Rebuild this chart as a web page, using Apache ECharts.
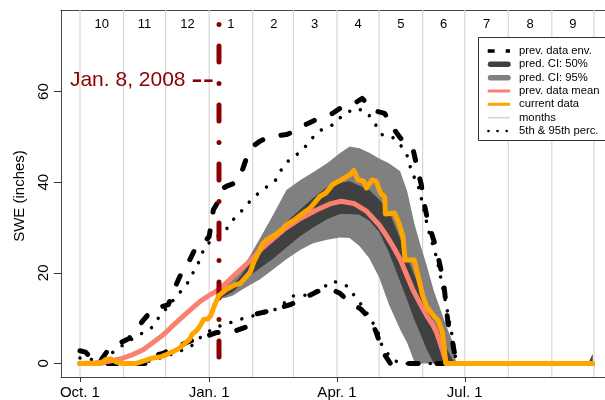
<!DOCTYPE html>
<html><head><meta charset="utf-8">
<script src="https://cdn.jsdelivr.net/npm/echarts@6/dist/echarts.min.js"></script>
<style>html,body{margin:0;padding:0;background:#fff}#c{width:605px;height:400px}</style>
</head><body><div id="c"></div>
<script>
const FONT = '"Liberation Sans", Arial, Helvetica, sans-serif';

// x = day of water year (0 = Oct. 1, 2007)
const monthStartDays = [0,31,61,92,123,152,183,213,244,274,305,336,366];
const monthLabelDays = [15.5,46,76.5,107.5,138,167,198,228.5,259,289.5,320.5,351];
const monthLabels = ['10','11','12','1','2','3','4','5','6','7','8','9'];
const xTickDays = [0,92,183,274];
const xTickLabels = ['Oct. 1','Jan. 1','Apr. 1','Jul. 1'];
const yTicks = [0,20,40,60];
const currentDay = 99;
const currentLabel = 'Jan. 8, 2008 ';
const currentMark = '--';

// prev. data envelope (max / min)
const envUpDays = [0,4,7,9,14,19,24,29,35,40,45,52,58,63,68,72,76,83,88,92,95,98,101,105,112,116,119,123,128,135,147,155,160,168,180,187,195,201,204,207,217,222,230,237,241,243,245,248,254,259,262,265,267,270,365];
const envUp = [2.8,2.5,1.5,0.3,0.3,2.5,4,4.6,5.5,7.5,9.5,12,12.5,13,17,19.8,21.5,25.9,26.6,28,33.9,35.5,38.5,39.2,40,43,45.7,47.9,49,50.1,50.5,51.5,52.6,53.8,55.2,56.7,57.3,58.5,57.5,56,55.2,52.3,49,47.5,42,39.5,35.4,31,25.1,17.8,9,5.3,1.7,0,0];
const envLoDays = [0,54,56,59,63,68,76,83,90,97,107,118,121,124,135,150,160,170,178,185,192,200,207,211,216,221,365];
const envLo = [0,0,2,2.2,2.8,3.5,4.6,5.5,6,6.8,6.8,8,9.5,10.8,11.6,13,14.5,16,16.5,15.5,13.5,12,9.7,6.8,2.4,0,0];

// 95th & 5th percentiles
const p95Days = [0,10,20,34,51,57,69,76,85,89,104,109,117,123,130,139,144,150,158,164,171,181,187,196,204,209,215,222,229,234,236,240,243,248,254,260,265,267,268,365];
const p95 = [1.2,0.8,1.7,4.8,7.9,10.5,14.9,17.4,22.6,25.9,29.5,31.7,34.3,36.5,38.3,40.3,43.1,45.3,46.8,49.3,51.4,52.8,54.8,56.3,55.6,53.4,50.5,50.1,47.9,45.3,42,40.2,36.5,29.5,23.3,14.1,6.1,2.4,0,0];
const p5Days = [0,40,50,60,70,80,88,97,107,118,130,140,152,162,172,180,190,202,212,215,222,228,365];
const p5 = [0,0,0.5,1.5,2.5,4,6.4,8,9,10.1,11,12,14.9,15.1,16.5,18.2,17.1,12.3,7.2,3.9,1,0,0];

// prev. data mean
const meanDays = [0,10,20,30,38,45,52,60,66,72,80,86,92,100,110,121,130,145,157,168,178,186,195,204,213,218,223,228,232,237,242,247,251,254,257,259,261,365];
const meanVals = [0,0.1,0.4,1.1,2,3,4.6,6.5,8.3,10,12.2,13.8,15,16.5,19.5,22.6,25.5,29.5,32,33.8,35.2,35.8,35.3,33.6,30.6,28.3,25.8,23,20,16.3,13.3,10.5,8.6,6.8,4,2,0,0];

// current data
const curDays = [0,15,18,22,26,30,40,45,52,58,62,66,70,74,78,80,83,86,88,91,93,96,99,104,110,114,118,121,124,127,130,133,137,140,144,147,152,157,164,171,175,180,186,192,195,198,202,204,208,211,214,217,217.5,224,227,230,231.5,238,241,244,247,251,255,258,259.5,260.5,365];
const curVals = [0,0,0.8,1,0.3,0,0,0.5,1.2,1.5,2,2.6,3.2,4.2,5.3,6.5,7.2,8.5,9.7,9.8,10.5,13,15,16.3,17.3,17.6,19,20,22.5,24.4,26.3,27.3,28,28.6,29.6,30.6,31.5,32.7,34.3,36.9,37.6,39.5,40.5,41.6,42.6,40.5,40.2,38.7,40.5,40.2,37.6,36.7,33,33.2,31,28,22.8,22.8,19,15,12.5,10.8,9.5,7,3,0,0];

// prediction confidence intervals
const ciDays = [99,104,109,115,121,128,137,147,157,166,176,185,192,199,206,213,220,228,233,238,242,247,252,256,260,265,268,362,365];
const ci95Hi = [14.5,17,18.8,21,23.7,27.5,32.5,38.3,40.5,42.2,44.2,46.4,47.9,47.5,46.5,45.2,44.2,42.4,38,31,26.6,21.5,16,12.5,9,5,0,0,2];
const ci95Lo = [14.2,14.5,15,16.2,17.3,18.5,20.6,23,25.1,26.5,27.3,27.8,27.7,25.9,23.2,19,13,7.5,4.5,0.5,0,0,0,0,0,0,0,0,0];
const ci50Hi = [14.4,16,17.3,19.5,22.2,24.8,28,31.2,34,36.5,39,39.8,40.2,39.2,38.3,36.2,33.5,27.5,23.5,19.5,16.5,12.7,9,6.8,4,1,0,0,2];
const ci50Lo = [14.3,15,15.8,17.5,19.3,21,23,25.6,28.1,30,31.8,33,33,32.8,31.5,29,24.5,18,14,9.7,6.8,3,0,0,0,0,0,0,0];

const X_MIN = -13.5, X_MAX = 373.85, Y_MIN = -3, Y_MAX = 78;
const zip = (xs, ys) => xs.map((x, i) => [x, ys[i]]);

function bandSeries(lo, hi, color, z) {
  return {
    type: 'custom', z: z, silent: true,
    data: [[ciDays[0], lo[0]]],
    renderItem: function (params, api) {
      const pts = [];
      for (let i = 0; i < ciDays.length; i++) pts.push(api.coord([ciDays[i], hi[i]]));
      for (let i = ciDays.length - 1; i >= 0; i--) pts.push(api.coord([ciDays[i], lo[i]]));
      return { type: 'polygon', shape: { points: pts }, style: { fill: color, stroke: null } };
    }
  };
}
function lineSeries(data, color, width, dash, z) {
  return {
    type: 'line', data: data, z: z, symbol: 'none', showSymbol: false, silent: true,
    lineStyle: { color: color, width: width, type: dash || 'solid', cap: 'round', join: 'round' }
  };
}

const chart = echarts.init(document.getElementById('c'), null, { renderer: 'canvas' });

const legendY = [51, 64.3, 77.7, 91, 104.3, 117.7, 131];
const legendText = ['prev. data env.', 'pred. CI: 50%', 'pred. CI: 95%', 'prev. data mean', 'current data', 'months', '5th & 95th perc.'];
const graphics = [
  { type: 'rect', z: 100, shape: { x: 478.5, y: 37.5, width: 150, height: 103 }, style: { fill: '#fff', stroke: '#333', lineWidth: 1 } },
  { type: 'line', z: 101, shape: { x1: 487.7, y1: legendY[0], x2: 510, y2: legendY[0] }, style: { stroke: '#000', lineWidth: 3.5, lineDash: [7, 11] } },
  { type: 'line', z: 101, shape: { x1: 490.5, y1: legendY[1], x2: 508, y2: legendY[1] }, style: { stroke: '#404040', lineWidth: 5.5, lineCap: 'round' } },
  { type: 'line', z: 101, shape: { x1: 490.5, y1: legendY[2], x2: 508, y2: legendY[2] }, style: { stroke: '#808080', lineWidth: 5.5, lineCap: 'round' } },
  { type: 'line', z: 101, shape: { x1: 487.7, y1: legendY[3], x2: 510, y2: legendY[3] }, style: { stroke: '#FA8072', lineWidth: 3 } },
  { type: 'line', z: 101, shape: { x1: 487.7, y1: legendY[4], x2: 510, y2: legendY[4] }, style: { stroke: '#FFA500', lineWidth: 3 } },
  { type: 'line', z: 101, shape: { x1: 487.7, y1: legendY[5], x2: 510, y2: legendY[5] }, style: { stroke: '#d3d3d3', lineWidth: 1.5 } },
  { type: 'circle', z: 101, shape: { cx: 488.5, cy: legendY[6], r: 1.3 }, style: { fill: '#000' } },
  { type: 'circle', z: 101, shape: { cx: 497.5, cy: legendY[6], r: 1.3 }, style: { fill: '#000' } },
  { type: 'circle', z: 101, shape: { cx: 506.7, cy: legendY[6], r: 1.3 }, style: { fill: '#000' } },
  { type: 'text', z: 50, x: 214, y: 80.7, style: {
      text: '{a|' + currentLabel + '}{b|' + currentMark + '}', align: 'right', verticalAlign: 'middle',
      rich: { a: { font: '21px ' + FONT, fill: '#8B0000' }, b: { font: '34px ' + FONT, fill: '#8B0000' } } } },
  { type: 'text', z: 50, x: 20, y: 196, rotation: Math.PI / 2, style: { text: 'SWE (inches)', font: '15px ' + FONT, fill: '#000', align: 'center', verticalAlign: 'middle' } }
];
legendText.forEach((t, i) => graphics.push({ type: 'text', z: 101, x: 519, y: legendY[i], style: { text: t, font: '11.25px ' + FONT, fill: '#000', align: 'left', verticalAlign: 'middle' } }));

const axisLineStyle = { color: '#444', width: 1 };
chart.setOption({
  animation: false,
  backgroundColor: '#fff',
  textStyle: { fontFamily: FONT },
  grid: { left: 61, top: 10, right: 0, bottom: 22, show: false, containLabel: false },
  xAxis: [
    {
      type: 'value', position: 'bottom', min: X_MIN, max: X_MAX,
      axisLine: { show: true, onZero: false, lineStyle: axisLineStyle }, splitLine: { show: false },
      axisTick: { show: true, length: 5, lineStyle: { color: '#333' }, customValues: xTickDays },
      axisLabel: { show: true, fontSize: 15, color: '#000', margin: 8, customValues: xTickDays,
        formatter: v => xTickLabels[xTickDays.indexOf(v)] || '' }
    },
    {
      type: 'value', position: 'top', min: X_MIN, max: X_MAX,
      axisLine: { show: true, onZero: false, lineStyle: axisLineStyle }, splitLine: { show: false }, axisTick: { show: false },
      axisLabel: { show: true, inside: true, fontSize: 13, color: '#000', margin: 8, customValues: monthLabelDays,
        formatter: v => monthLabels[monthLabelDays.indexOf(v)] || '' }
    }
  ],
  yAxis: {
    type: 'value', min: Y_MIN, max: Y_MAX,
    axisLine: { show: true, onZero: false, lineStyle: axisLineStyle }, splitLine: { show: false },
    axisTick: { show: true, length: 7, lineStyle: { color: '#333' }, customValues: yTicks },
    axisLabel: { show: true, rotate: 90, fontSize: 15, color: '#000', margin: 10, customValues: yTicks }
  },
  graphic: graphics,
  series: [
    {
      type: 'custom', z: 1, silent: true,
      data: monthStartDays.map(d => [d, 0]),
      renderItem: function (params, api) {
        const d = api.value(0);
        const a = api.coord([d, Y_MAX]), b = api.coord([d, Y_MIN]);
        return { type: 'line', shape: { x1: a[0], y1: a[1], x2: b[0], y2: b[1] }, style: { stroke: '#d6d6d6', lineWidth: 1.2 } };
      }
    },
    bandSeries(ci95Lo, ci95Hi, '#808080', 2),
    bandSeries(ci50Lo, ci50Hi, '#404040', 3),
    lineSeries(zip(envUpDays, envUp), '#000', 5, [9, 19], 4),
    lineSeries(zip(envLoDays, envLo), '#000', 5, [9, 19], 4),
    lineSeries(zip(p95Days, p95), '#000', 3.5, [0.01, 11.5], 4),
    lineSeries(zip(p5Days, p5), '#000', 3.5, [0.01, 11.5], 4),
    lineSeries(zip(meanDays, meanVals), '#FA8072', 5, null, 5),
    {
      type: 'line', z: 6, symbol: 'none', showSymbol: false, silent: true,
      data: [[currentDay, Y_MAX], [currentDay, Y_MIN]],
      lineStyle: { color: '#8B0000', width: 5, type: [16, 21.5, 0, 21.5], dashOffset: 23, cap: 'round' }
    },
    lineSeries(zip(curDays, curVals), '#FFA500', 5, null, 7)
  ]
});
</script></body></html>
